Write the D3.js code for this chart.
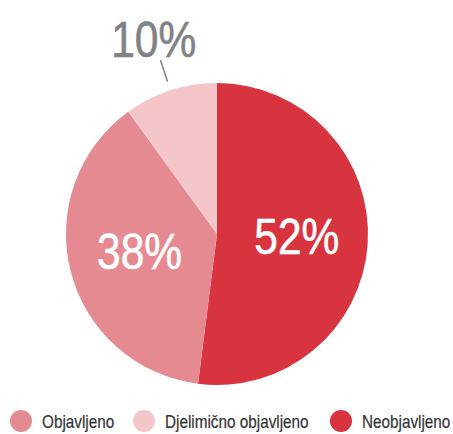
<!DOCTYPE html>
<html>
<head>
<meta charset="utf-8">
<script src="https://cdn.jsdelivr.net/npm/d3@7"></script>
<style>
  body { margin: 0; background: #fff; }
  svg { display: block; font-family: "Liberation Sans", Arial, sans-serif; }
</style>
</head>
<body>
<div id="chart"></div>
<script>
var labels = ['Neobjavljeno', 'Objavljeno', 'Djelimično objavljeno'];
var values = [52, 38, 10];
var colors = ['#d7343f', '#e68a92', '#f4c6ca'];
var legendOrder = ['Objavljeno', 'Djelimično objavljeno', 'Neobjavljeno'];

var width = 453, height = 434;
var cx = 217, cy = 234, radius = 151;
var squeeze = 0.85; // condensed look

var svg = d3.select('#chart')
    .append('svg')
        .attr('width', width)
        .attr('height', height);

var color = d3.scaleOrdinal()
    .domain(labels)
    .range(colors);

var pie = d3.pie()
    .sort(null)
    .value(d => d.value);

var data = labels.map((l, i) => ({ label: l, value: values[i] }));
var arcs = pie(data);

var arc = d3.arc()
    .innerRadius(0)
    .outerRadius(radius);

var labelArc = d3.arc()
    .innerRadius(80)
    .outerRadius(80);

var g = svg.append('g')
    .attr('transform', `translate(${cx},${cy})`);

g.selectAll('.slice')
    .data(arcs)
    .enter()
    .append('path')
    .classed('slice', true)
    .attr('d', arc)
    .attr('fill', d => color(d.data.label));

// big labels inside
g.selectAll('.inlabel')
    .data(arcs.filter(d => d.data.value >= 20))
    .enter()
    .append('text')
    .attr('transform', d => `translate(${labelArc.centroid(d)}) scale(${squeeze},1)`)
    .attr('text-anchor', 'middle')
    .attr('dy', '0.3em')
    .style('font-size', '50px')
    .style('fill', 'white')
    .style('stroke', 'white')
    .style('stroke-width', 0.6)
    .text(d => d.data.value + '%');

// small slice label outside with leader
function polar(r, a) {
    return [r * Math.sin(a), -r * Math.cos(a)];
}
var small = arcs.filter(d => d.data.value < 20);

small.forEach(d => {
    var mid = (d.startAngle + d.endAngle) / 2;
    var p1 = polar(160, mid), p2 = polar(183, mid), p3 = polar(205, mid);
    g.append('line')
        .attr('x1', p1[0]).attr('y1', p1[1])
        .attr('x2', p2[0]).attr('y2', p2[1])
        .style('stroke', '#808285')
        .style('stroke-width', 1.5);
    g.append('text')
        .attr('transform', `translate(${p3}) scale(${squeeze},1)`)
        .attr('text-anchor', 'middle')
        .attr('dy', '0.36em')
        .style('font-size', '50px')
        .style('fill', '#808285')
        .style('stroke', '#808285')
        .style('stroke-width', 0.6)
        .text(d.data.value + '%');
});

// legend
var legendPos = { 'Objavljeno': 21, 'Djelimično objavljeno': 144, 'Neobjavljeno': 341 };

var legend = svg.selectAll('.legend')
    .data(legendOrder)
    .enter()
    .append('g')
    .classed('legend', true)
    .attr('transform', d => `translate(${legendPos[d]},421)`);

legend.append('circle')
    .attr('r', 11)
    .attr('fill', d => color(d));

legend.append('text')
    .attr('transform', `translate(21,7) scale(${squeeze},1)`)
    .style('font-size', '18px')
    .style('fill', '#333')
    .style('stroke', '#333')
    .style('stroke-width', 0.2)
    .text(d => d);
</script>
</body>
</html>
